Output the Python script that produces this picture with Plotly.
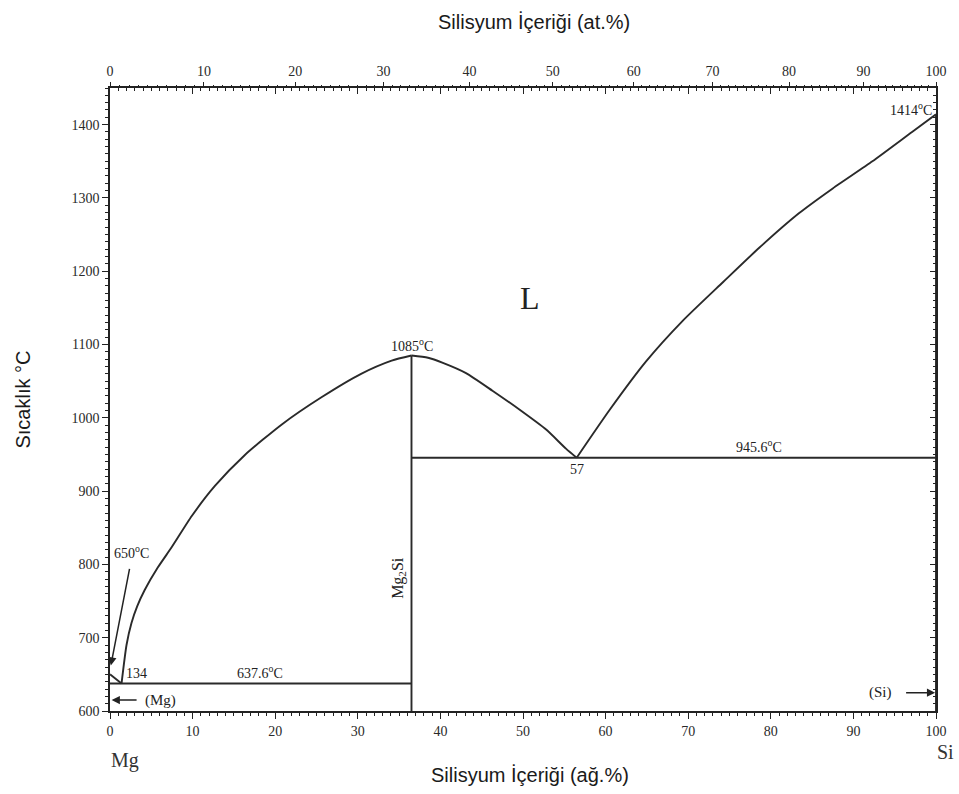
import plotly.graph_objects as go

# ---------------- data ----------------
# Mg-rich liquidus: Mg melting point -> eutectic
mg_liq_wt = [0.0, 1.4]
mg_liq_T = [650, 637.6]
# Liquidus from eutectic (1.4 wt%) up to Mg2Si congruent point
left_liq_wt = [1.4, 2.0, 2.6, 3.3, 4.2, 5.8, 7.5, 9.9, 12.7, 16.3, 20.8, 25.6, 30.4, 34.1, 36.5]
left_liq_T = [637.6, 690, 720, 743, 765, 796, 824, 866, 907, 949, 991, 1028, 1060, 1078, 1085]
# Liquidus from Mg2Si down to Mg2Si-Si eutectic
mid_liq_wt = [36.5, 38.5, 40.3, 43.1, 46.3, 49.6, 52.8, 55.2, 56.5]
mid_liq_T = [1085, 1082, 1075, 1061, 1037, 1011, 984, 958, 945.6]
# Si liquidus: eutectic -> Si melting point
si_liq_wt = [56.5, 60.5, 64.9, 69.3, 74.2, 78.6, 83.4, 87.5, 92.3, 97.1, 100.0]
si_liq_T = [945.6, 1011, 1077, 1132, 1185, 1232, 1279, 1313, 1350, 1390, 1414]
# invariant lines and compound
eut1_wt = [0.0, 36.5]
eut1_T = [637.6, 637.6]
eut2_wt = [36.5, 100.0]
eut2_T = [945.6, 945.6]
mg2si_wt = [36.5, 36.5]
mg2si_T = [600, 1085]
si_wt = [100.0, 100.0]
si_T = [600, 1414]

wt_ticks = [0, 10, 20, 30, 40, 50, 60, 70, 80, 90, 100]
at_ticks = [0, 10, 20, 30, 40, 50, 60, 70, 80, 90, 100]
T_ticks = [600, 700, 800, 900, 1000, 1100, 1200, 1300, 1400]

M_MG, M_SI = 24.305, 28.086


def at_to_wt(a):
    return 100.0 * a * M_SI / (a * M_SI + (100.0 - a) * M_MG)


LINE = dict(color="#2a2a2a", width=1.9, shape="spline", smoothing=0.6)
STRAIGHT = dict(color="#2a2a2a", width=1.9)
SERIF = "Liberation Serif"
SANS = "Liberation Sans"

fig = go.Figure()
for xs, ys, ln in [(mg_liq_wt, mg_liq_T, STRAIGHT), (left_liq_wt, left_liq_T, LINE),
                   (mid_liq_wt, mid_liq_T, LINE), (si_liq_wt, si_liq_T, LINE),
                   (eut1_wt, eut1_T, STRAIGHT), (eut2_wt, eut2_T, STRAIGHT),
                   (mg2si_wt, mg2si_T, STRAIGHT), (si_wt, si_T, STRAIGHT)]:
    fig.add_trace(go.Scatter(x=xs, y=ys, mode="lines", line=ln,
                             showlegend=False, hoverinfo="skip"))

# dummy traces so that the extra axes are drawn
fig.add_trace(go.Scatter(x=[None], y=[None], xaxis="x2", yaxis="y", showlegend=False))
fig.add_trace(go.Scatter(x=[None], y=[None], xaxis="x3", yaxis="y2", showlegend=False))

tickfont = dict(family=SERIF, size=14, color="#2a2a2a")
axcol = "#222"

at_pos = [at_to_wt(a) for a in at_ticks]
at_minor = [at_to_wt(a) for a in range(0, 101) if a % 10 != 0]

fig.update_layout(
    width=959, height=794,
    margin=dict(l=110, r=23, t=88, b=83),
    paper_bgcolor="white", plot_bgcolor="white",
    xaxis=dict(range=[0, 100], tickvals=wt_ticks, ticktext=[str(v) for v in wt_ticks],
               ticks="outside", ticklen=6, tickwidth=1.2, tickcolor=axcol,
               showline=True, linecolor=axcol, linewidth=1.6, showgrid=False, zeroline=False,
               tickfont=tickfont,
               minor=dict(dtick=1, ticks="outside", ticklen=3, tickcolor=axcol, showgrid=False)),
    xaxis3=dict(range=[0, 100], overlaying="x", side="top", tickvals=wt_ticks,
                showticklabels=False, ticks="inside", ticklen=6, tickwidth=1.2, tickcolor=axcol,
                showline=True, linecolor=axcol, linewidth=1.6, showgrid=False, zeroline=False,
                minor=dict(dtick=1, ticks="inside", ticklen=3, tickcolor=axcol, showgrid=False)),
    xaxis2=dict(range=[0, 100], overlaying="x", side="top", tickvals=at_pos,
                ticktext=[str(v) for v in at_ticks],
                ticks="outside", ticklen=5, tickwidth=1.2, tickcolor=axcol,
                showline=False, showgrid=False, zeroline=False, tickfont=tickfont,
                minor=dict(tickvals=at_minor, ticks="outside", ticklen=2, tickcolor=axcol,
                           showgrid=False)),
    yaxis=dict(range=[600, 1450], tickvals=T_ticks, ticks="outside", ticklen=6, tickwidth=1.2,
               tickcolor=axcol, showline=True, linecolor=axcol, linewidth=1.6,
               showgrid=False, zeroline=False, tickfont=tickfont,
               minor=dict(dtick=10, ticks="outside", ticklen=3, tickcolor=axcol, showgrid=False)),
    yaxis2=dict(range=[600, 1450], overlaying="y", side="right", tickvals=T_ticks,
                showticklabels=False, ticks="inside", ticklen=6, tickwidth=1.2, tickcolor=axcol,
                showline=True, linecolor=axcol, linewidth=1.6, showgrid=False, zeroline=False,
                minor=dict(dtick=10, ticks="inside", ticklen=3, tickcolor=axcol, showgrid=False)),
)

lab = dict(family=SERIF, size=14, color="#222")
ann = [
    dict(x=50.8, y=1164, text="L", font=dict(family=SERIF, size=32, color="#222")),
    dict(x=36.6, y=1085, yanchor="bottom", text="1085<sup>o</sup>C", font=lab),
    dict(x=78.6, y=946, yanchor="bottom", text="945.6<sup>o</sup>C", font=lab),
    dict(x=56.5, y=943, yanchor="top", text="57", font=lab),
    dict(x=18.1, y=638, yanchor="bottom", text="637.6<sup>o</sup>C", font=lab),
    dict(x=1.7, y=638, xanchor="left", yanchor="bottom", text="134", font=lab),
    dict(x=0.3, y=817, xanchor="left", text="650<sup>o</sup>C", font=lab),
    dict(x=99.8, y=1421, xanchor="right", text="1414<sup>o</sup>C", font=lab),
    dict(x=34.9, y=782, text="Mg<sub>2</sub>Si", textangle=-90,
         font=dict(family=SERIF, size=16, color="#222")),
    dict(x=6.1, y=614, text="(Mg)", font=dict(family=SERIF, size=15, color="#222")),
    dict(x=93.3, y=625, text="(Si)", font=dict(family=SERIF, size=15, color="#222")),
]
for a in ann:
    a.update(xref="x", yref="y", showarrow=False)
    fig.add_annotation(**a)

# pointer arrows
for (hx, hy, tx, ty) in [(0.1, 662, 2.4, 796), (0.2, 615, 3.4, 615), (99.9, 625, 96.2, 625)]:
    fig.add_annotation(x=hx, y=hy, ax=tx, ay=ty, xref="x", yref="y", axref="x", ayref="y",
                       text="", showarrow=True, arrowhead=2, arrowsize=1.1, arrowwidth=1.5,
                       arrowcolor="#222", standoff=0, startstandoff=0)

# axis titles and element labels
titlefont = dict(family=SANS, size=20, color="#1a1a1a")
common = dict(xref="paper", yref="paper", showarrow=False, xanchor="center", yanchor="middle")
fig.add_annotation(x=0.508, y=-0.103, text="Silisyum İçeriği (ağ.%)", font=titlefont, **common)
fig.add_annotation(x=0.513, y=1.106, text="Silisyum İçeriği (at.%)", font=titlefont, **common)
fig.add_annotation(x=-0.1065, y=0.5, text="Sıcaklık °C", textangle=-90, font=titlefont, **common)
fig.add_annotation(x=0.018, y=-0.079, text="Mg", font=dict(family=SERIF, size=20, color="#333"),
                   **common)
fig.add_annotation(x=1.012, y=-0.066, text="Si", font=dict(family=SERIF, size=20, color="#333"),
                   **common)

fig.write_html("out.html")
